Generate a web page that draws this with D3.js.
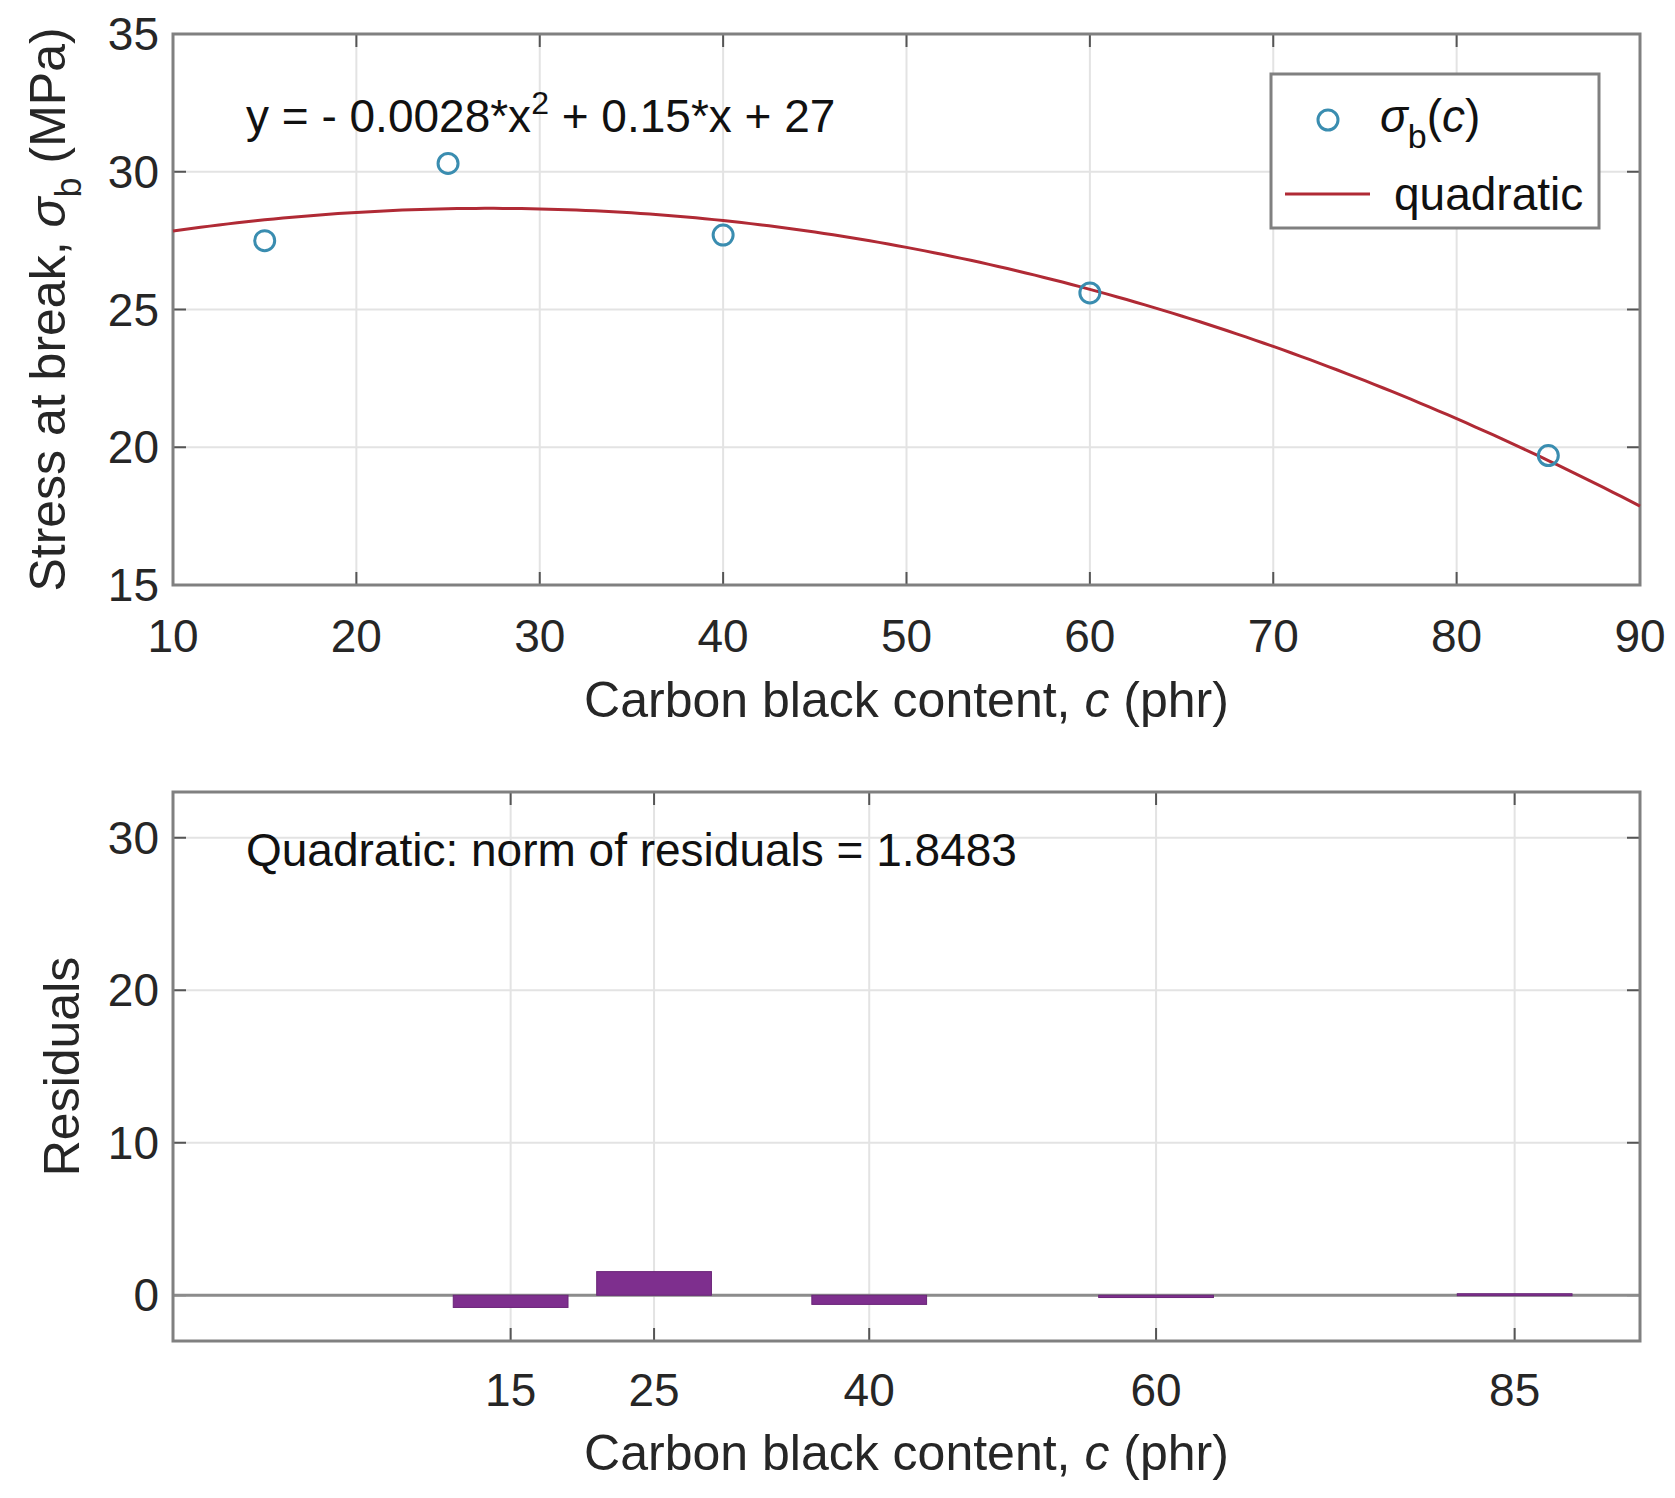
<!DOCTYPE html>
<head><meta charset="utf-8"/></head>
<style>
body { margin: 0; background: white; }
svg { font-family: "Liberation Sans", Arial, sans-serif; }
.grid line { stroke: #e3e3e3; stroke-width: 2; }
.frame { fill: none; stroke: #808080; stroke-width: 3; }
.tick-mark { stroke: #555; stroke-width: 2; }
.ticklabel { fill: #262626; font-size: 46px; }
.axlabel { fill: #262626; font-size: 50px; }
.note { fill: #111; font-size: 46px; }
</style>
<script src="https://cdn.jsdelivr.net/npm/d3@7"></script>
<body>
<div id="chart"></div>
</body>
<script>

// measured points
var carbon = [15, 25, 40, 60, 85];
var stress = [27.5, 30.3, 27.7, 25.6, 19.7];
// fit residuals
var residuals = [-0.8, 1.55, -0.6, -0.15, 0.1];
// quadratic fit coefficients (a*x^2 + b*x + c)
var fitCoef = [-0.00275, 0.1502, 26.62];

var topXTicks = [10, 20, 30, 40, 50, 60, 70, 80, 90];
var topYTicks = [15, 20, 25, 30, 35];
var botYTicks = [0, 10, 20, 30];

var W = 1675, H = 1498;
var L = 173, R = 1640;

var svg = d3.select("#chart").append("svg")
    .attr("width", W)
    .attr("height", H);

// ---------- top panel ----------
var x1 = d3.scaleLinear().domain([10, 90]).range([L, R]);
var y1 = d3.scaleLinear().domain([15, 35]).range([585, 34]);

var g1 = svg.append("g");

g1.append("g").attr("class", "grid")
  .selectAll("line.v").data(topXTicks.slice(1, -1)).enter().append("line")
    .attr("x1", d => x1(d)).attr("x2", d => x1(d))
    .attr("y1", y1(35)).attr("y2", y1(15));
g1.append("g").attr("class", "grid")
  .selectAll("line.h").data(topYTicks.slice(1, -1)).enter().append("line")
    .attr("x1", L).attr("x2", R)
    .attr("y1", d => y1(d)).attr("y2", d => y1(d));

// inward ticks on all four sides
topXTicks.forEach(function(t) {
  g1.append("line").attr("class", "tick-mark")
    .attr("x1", x1(t)).attr("x2", x1(t)).attr("y1", y1(15)).attr("y2", y1(15) - 13);
  g1.append("line").attr("class", "tick-mark")
    .attr("x1", x1(t)).attr("x2", x1(t)).attr("y1", y1(35)).attr("y2", y1(35) + 13);
});
topYTicks.forEach(function(t) {
  g1.append("line").attr("class", "tick-mark")
    .attr("x1", L).attr("x2", L + 13).attr("y1", y1(t)).attr("y2", y1(t));
  g1.append("line").attr("class", "tick-mark")
    .attr("x1", R).attr("x2", R - 13).attr("y1", y1(t)).attr("y2", y1(t));
});

g1.append("rect").attr("class", "frame")
    .attr("x", L).attr("y", y1(35))
    .attr("width", R - L).attr("height", y1(15) - y1(35));

g1.selectAll("text.xt").data(topXTicks).enter().append("text")
    .attr("class", "ticklabel")
    .attr("x", d => x1(d)).attr("y", 652)
    .attr("text-anchor", "middle")
    .text(d => d);
g1.selectAll("text.yt").data(topYTicks).enter().append("text")
    .attr("class", "ticklabel")
    .attr("x", L - 14).attr("y", d => y1(d) + 16)
    .attr("text-anchor", "end")
    .text(d => d);

// fitted curve
var fx = d3.range(10, 90.01, 0.5);
var line = d3.line()
    .x(d => x1(d))
    .y(d => y1(fitCoef[0] * d * d + fitCoef[1] * d + fitCoef[2]));
g1.append("path")
    .datum(fx)
    .attr("d", line)
    .attr("fill", "none")
    .attr("stroke", "#b02a35")
    .attr("stroke-width", 3);

g1.selectAll("circle.pt").data(carbon).enter().append("circle")
    .attr("cx", d => x1(d))
    .attr("cy", (d, i) => y1(stress[i]))
    .attr("r", 10)
    .attr("fill", "none")
    .attr("stroke", "#3a8db0")
    .attr("stroke-width", 3);

var eq = g1.append("text").attr("class", "note").attr("x", 246).attr("y", 132);
eq.append("tspan").text("y = - 0.0028*x");
eq.append("tspan").attr("dy", -18).style("font-size", "32px").text("2");
eq.append("tspan").attr("dy", 18).text(" + 0.15*x + 27");

// legend
var lg = g1.append("g");
lg.append("rect")
    .attr("x", 1271).attr("y", 74).attr("width", 328).attr("height", 154)
    .attr("fill", "white").attr("stroke", "#808080").attr("stroke-width", 3);
lg.append("circle").attr("cx", 1328).attr("cy", 120).attr("r", 10)
    .attr("fill", "none").attr("stroke", "#3a8db0").attr("stroke-width", 3);
var lt = lg.append("text").attr("class", "note").attr("x", 1380).attr("y", 132);
lt.append("tspan").style("font-style", "italic").text("σ");
lt.append("tspan").attr("dy", 16).style("font-size", "34px").text("b");
lt.append("tspan").attr("dy", -16).text("(");
lt.append("tspan").style("font-style", "italic").text("c");
lt.append("tspan").text(")");
lg.append("line").attr("x1", 1285).attr("x2", 1370).attr("y1", 194).attr("y2", 194)
    .attr("stroke", "#b02a35").attr("stroke-width", 3);
lg.append("text").attr("class", "note").attr("x", 1394).attr("y", 210).text("quadratic");

g1.append("text").attr("class", "axlabel")
    .attr("x", (L + R) / 2).attr("y", 717)
    .attr("text-anchor", "middle")
    .html("Carbon black content, <tspan font-style='italic'>c</tspan> (phr)");

var yl = g1.append("text").attr("class", "axlabel")
    .attr("transform", "translate(65," + ((y1(15) + y1(35)) / 2) + ") rotate(-90)")
    .attr("text-anchor", "middle");
yl.append("tspan").text("Stress at break, ");
yl.append("tspan").style("font-style", "italic").text("σ");
yl.append("tspan").attr("dy", 16).style("font-size", "36px").text("b");
yl.append("tspan").attr("dy", -16).text(" (MPa)");

// ---------- bottom panel ----------
var x2 = d3.scaleLinear().domain([-8.54, 93.74]).range([L, R]);
var y2 = d3.scaleLinear().domain([-3, 33]).range([1341, 792]);

var g2 = svg.append("g");

g2.append("g").attr("class", "grid")
  .selectAll("line").data(carbon).enter().append("line")
    .attr("x1", d => x2(d)).attr("x2", d => x2(d))
    .attr("y1", y2(33)).attr("y2", y2(-3));
g2.append("g").attr("class", "grid")
  .selectAll("line").data(botYTicks).enter().append("line")
    .attr("x1", L).attr("x2", R)
    .attr("y1", d => y2(d)).attr("y2", d => y2(d));

carbon.forEach(function(t) {
  g2.append("line").attr("class", "tick-mark")
    .attr("x1", x2(t)).attr("x2", x2(t)).attr("y1", y2(-3)).attr("y2", y2(-3) - 13);
  g2.append("line").attr("class", "tick-mark")
    .attr("x1", x2(t)).attr("x2", x2(t)).attr("y1", y2(33)).attr("y2", y2(33) + 13);
});
botYTicks.forEach(function(t) {
  g2.append("line").attr("class", "tick-mark")
    .attr("x1", L).attr("x2", L + 13).attr("y1", y2(t)).attr("y2", y2(t));
  g2.append("line").attr("class", "tick-mark")
    .attr("x1", R).attr("x2", R - 13).attr("y1", y2(t)).attr("y2", y2(t));
});

// baseline
g2.append("line")
    .attr("x1", L).attr("x2", R).attr("y1", y2(0)).attr("y2", y2(0))
    .attr("stroke", "#8c8c8c").attr("stroke-width", 3);

var barW = 8;
g2.selectAll("rect.bar").data(residuals).enter().append("rect")
    .attr("x", (d, i) => x2(carbon[i] - barW / 2))
    .attr("width", x2(barW) - x2(0))
    .attr("y", d => y2(Math.max(0, d)))
    .attr("height", d => Math.max(2, Math.abs(y2(d) - y2(0))))
    .attr("fill", "#7e2f8e")
    .attr("stroke", "#6a2578")
    .attr("stroke-width", 1);

g2.append("rect").attr("class", "frame")
    .attr("x", L).attr("y", y2(33))
    .attr("width", R - L).attr("height", y2(-3) - y2(33));

g2.selectAll("text.xt").data(carbon).enter().append("text")
    .attr("class", "ticklabel")
    .attr("x", d => x2(d)).attr("y", 1406)
    .attr("text-anchor", "middle")
    .text(d => d);
g2.selectAll("text.yt").data(botYTicks).enter().append("text")
    .attr("class", "ticklabel")
    .attr("x", L - 14).attr("y", d => y2(d) + 16)
    .attr("text-anchor", "end")
    .text(d => d);

g2.append("text").attr("class", "note")
    .attr("x", 246).attr("y", 866)
    .text("Quadratic: norm of residuals = 1.8483");

g2.append("text").attr("class", "axlabel")
    .attr("x", (L + R) / 2).attr("y", 1470)
    .attr("text-anchor", "middle")
    .html("Carbon black content, <tspan font-style='italic'>c</tspan> (phr)");

g2.append("text").attr("class", "axlabel")
    .attr("transform", "translate(79," + ((y2(-3) + y2(33)) / 2) + ") rotate(-90)")
    .attr("text-anchor", "middle")
    .text("Residuals");

</script>
